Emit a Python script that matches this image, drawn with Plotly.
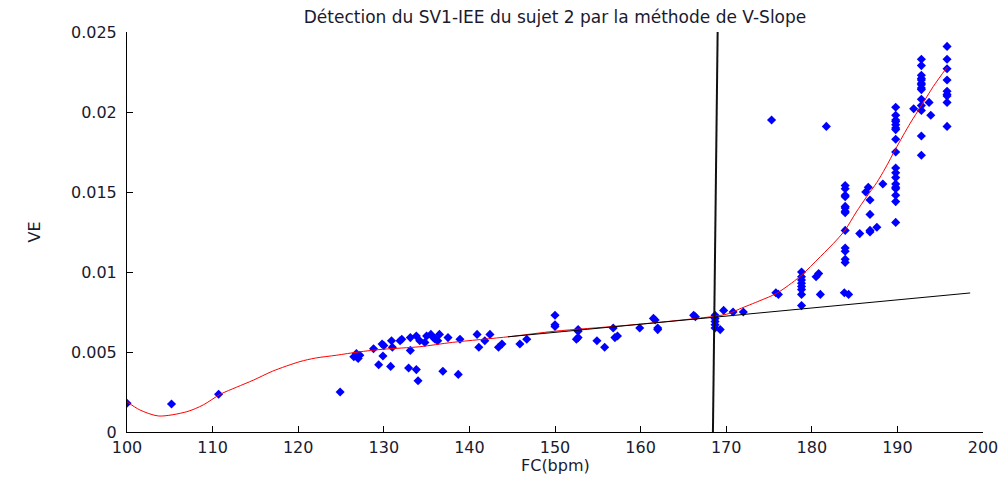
import plotly.graph_objects as go

# Scatter data (FC in bpm, VE)
fc_pts = [100, 105.2, 110.7, 124.9,
          126.5, 127.0, 127.2, 126.8, 128.8, 129.4, 129.8, 130.0, 129.9,
          130.9, 130.8, 131.0, 131.9, 132.1, 132.9, 133.1, 133.1, 133.8, 133.8,
          134.0, 134.2, 135.0, 135.5, 135.8, 136.0, 136.5, 134.8, 136.3,
          136.9, 137.5, 138.7, 138.9, 140.9, 141.1, 141.8, 142.4, 143.4, 143.8,
          145.9, 146.7, 150.0, 150.0, 150.0, 152.7, 152.7, 152.7, 152.5,
          154.9, 155.8, 156.8, 157.0, 157.3, 159.9, 161.7, 161.5, 162.0, 162.0,
          166.2, 166.4, 168.7, 168.7, 168.7, 168.7, 168.7, 169.3, 169.7,
          170.8, 172.0, 175.3, 175.8, 176.1,
          178.8, 178.8, 178.8, 178.8, 178.8, 178.8, 178.8, 178.8,
          180.5, 180.8, 181.0, 181.7,
          183.9, 183.9, 183.9, 183.9, 183.9, 183.9, 183.9, 183.9, 183.9, 183.9,
          183.9, 183.9, 183.9, 183.8, 184.3,
          185.6, 186.6, 186.3, 186.8, 186.8, 186.8, 186.8, 187.6, 188.3,
          189.8, 189.8, 189.8, 189.8, 189.8, 189.8, 189.8, 189.8, 189.8,
          189.8, 189.8, 189.8, 189.8, 189.8, 189.8, 189.8, 189.8, 189.8,
          191.9,
          192.8, 192.8, 192.8, 192.8, 192.8, 192.8, 192.8, 192.8, 192.8,
          192.8, 192.8, 192.8, 192.8, 192.8,
          193.7, 193.9,
          195.8, 195.8, 195.8, 195.8, 195.8, 195.8, 195.8, 195.8, 195.8]
ve_pts = [0.0018, 0.00175, 0.00236, 0.0025,
          0.0047, 0.0046, 0.0048, 0.0049, 0.0052, 0.0042, 0.0055, 0.0054, 0.00475,
          0.0057, 0.0041, 0.0053, 0.0057, 0.0058, 0.0040, 0.0059, 0.0051, 0.0060, 0.0039,
          0.0032, 0.0057, 0.0060, 0.0061, 0.0059, 0.0058, 0.0061, 0.0056, 0.0057,
          0.0038, 0.0059, 0.0036, 0.0058, 0.0061, 0.0053, 0.0057, 0.0061, 0.0053, 0.0055,
          0.0055, 0.0058, 0.0073, 0.0066, 0.0067, 0.0064, 0.0063, 0.0059, 0.0058,
          0.0057, 0.0053, 0.0065, 0.0059, 0.0060, 0.0065, 0.0070, 0.0071, 0.0065, 0.0064,
          0.0073, 0.0072, 0.0073, 0.0071, 0.0069, 0.0067, 0.0065, 0.0064, 0.0076,
          0.0075, 0.0075, 0.0195, 0.0087, 0.0086,
          0.0100, 0.0097, 0.0095, 0.0093, 0.0091, 0.0089, 0.0086, 0.0079,
          0.0097, 0.0099, 0.0086, 0.0191,
          0.0154, 0.0152, 0.0148, 0.0147, 0.0141, 0.0140, 0.0138, 0.0137, 0.0126, 0.0115,
          0.0113, 0.0108, 0.0106, 0.0087, 0.0086,
          0.0124, 0.0153, 0.0150, 0.0145, 0.0136, 0.0126, 0.0125, 0.0128, 0.0155,
          0.0203, 0.0198, 0.0195, 0.0194, 0.0192, 0.0190, 0.0189, 0.0183, 0.0175,
          0.0165, 0.0162, 0.0159, 0.0155, 0.0153, 0.0152, 0.0148, 0.0144, 0.0131,
          0.0202,
          0.0233, 0.0229, 0.0223, 0.0221, 0.0220, 0.0218, 0.0217, 0.0215, 0.0214,
          0.0208, 0.0204, 0.0201, 0.0185, 0.0173,
          0.0206, 0.0198,
          0.0241, 0.0233, 0.0227, 0.0220, 0.0213, 0.0211, 0.0210, 0.0206, 0.0191]

# Polynomial fit curve
fit_fc = [100, 101.5, 103.7, 107.0, 108.9, 110.9, 112.8, 114.8, 117.0, 120.2,
          122.0, 124.5, 127.0, 129.9, 134.2, 138.0, 144.7, 150.0, 157.6, 163.0,
          168.9, 170.3, 171.6, 173.95, 175.9, 178.6, 181.0, 182.9, 183.9, 185.2,
          186.4, 187.6, 188.6, 189.8, 191.5, 192.8, 194.2, 195.8]
fit_ve = [0.00189, 0.00138, 0.0010, 0.00127, 0.00169, 0.00236, 0.0028, 0.00325,
          0.0038, 0.0044, 0.00462, 0.0048, 0.0050, 0.00517, 0.00533, 0.0056,
          0.00596, 0.0063, 0.00663, 0.0069, 0.00725, 0.0074, 0.0077, 0.00821,
          0.00867, 0.00971, 0.01096, 0.0120, 0.01263, 0.01375, 0.0147, 0.0156,
          0.0165, 0.0177, 0.0193, 0.0204, 0.0216, 0.0228]

# Linear regression line
lin_fc = [144.5, 198.5]
lin_ve = [0.00595, 0.00869]

# Threshold (vertical line)
thr_fc = [168.45, 169.0]
thr_ve = [0.0, 0.025]

x_ticks = [100, 110, 120, 130, 140, 150, 160, 170, 180, 190, 200]
y_ticks = [0, 0.005, 0.01, 0.015, 0.02, 0.025]
y_tick_text = ["0", "0.005", "0.01", "0.015", "0.02", "0.025"]

fig = go.Figure()
fig.add_trace(go.Scatter(x=fc_pts, y=ve_pts, mode="markers",
                         marker=dict(symbol="diamond", size=7, color="#0000ff",
                                     line=dict(width=0)),
                         showlegend=False))
fig.add_trace(go.Scatter(x=fit_fc, y=fit_ve, mode="lines",
                         line=dict(color="#ff0000", width=1, shape="spline", smoothing=0.8),
                         showlegend=False))
fig.add_trace(go.Scatter(x=lin_fc, y=lin_ve, mode="lines",
                         line=dict(color="#000000", width=1),
                         showlegend=False))
fig.add_trace(go.Scatter(x=thr_fc, y=thr_ve, mode="lines",
                         line=dict(color="#111111", width=2),
                         showlegend=False))

font_family = "DejaVu Sans, Liberation Sans, Arial, sans-serif"
axis_font = dict(family=font_family, size=16, color="#1a1a2e")

fig.update_layout(
    width=999, height=469,
    margin=dict(l=119, r=24, t=24, b=45),
    paper_bgcolor="white", plot_bgcolor="white",
    title=dict(text="Détection du SV1-IEE du sujet 2 par la méthode de V-Slope",
               x=(555 - 8) / 999, xanchor="center", y=1 - (17 - 8) / 469, yanchor="middle",
               font=dict(family=font_family, size=17, color="#1a1a2e")),
    xaxis=dict(range=[100, 200], tickvals=x_ticks, ticks="inside", ticklen=6,
               tickcolor="black", showline=True, linecolor="black", linewidth=1,
               showgrid=False, zeroline=False, tickfont=axis_font, automargin=False,
               ticklabelstandoff=1),
    yaxis=dict(range=[0, 0.025], tickvals=y_ticks, ticktext=y_tick_text,
               ticks="inside", ticklen=6, tickcolor="black", automargin=False,
               showline=True, linecolor="black", linewidth=1, ticklabelstandoff=6,
               showgrid=False, zeroline=False, tickfont=axis_font,
               title=dict(text="VE", font=axis_font, standoff=26)),
    annotations=[dict(text="FC(bpm)", xref="paper", yref="paper", x=0.5, y=-0.083,
                      xanchor="center", yanchor="middle", showarrow=False,
                      font=axis_font)],
)

fig.write_html("out.html")
